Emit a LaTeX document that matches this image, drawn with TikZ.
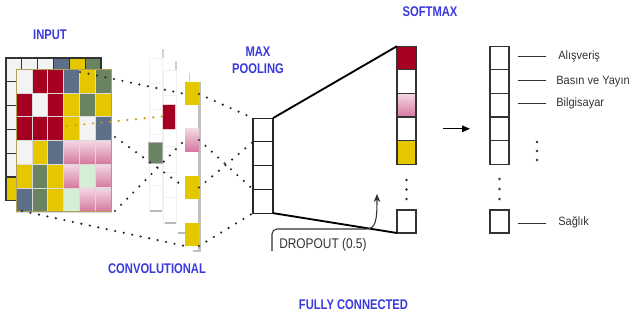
\documentclass[tikz,border=0pt]{standalone}
\usepackage{fontspec}
\setmainfont{Liberation Sans}
\newfontfamily\hdfont[FakeStretch=0.8]{Liberation Sans}
\newfontfamily\lbfont[FakeStretch=0.92]{Liberation Sans}
\newfontfamily\dpfont[FakeStretch=0.85]{Liberation Sans}
\usetikzlibrary{arrows.meta,calc}
\definecolor{cR}{HTML}{A50021}
\definecolor{cY}{HTML}{E5C700}
\definecolor{cS}{HTML}{5E7088}
\definecolor{cG}{HTML}{6A8462}
\definecolor{cW}{HTML}{F3F3F3}
\definecolor{cL}{HTML}{D6EDD6}
\definecolor{cpinkT}{HTML}{F3D8E4}
\definecolor{cpinkB}{HTML}{D5779E}
\definecolor{hblue}{HTML}{3A3ADC}
\definecolor{gold}{HTML}{C9A100}
\definecolor{olivb}{HTML}{B0A058}
\definecolor{txtg}{HTML}{333333}
\begin{document}
\begin{tikzpicture}[x=0.75pt,y=-0.75pt,
  fW/.style={fill=cW}, fR/.style={fill=cR}, fY/.style={fill=cY},
  fS/.style={fill=cS}, fG/.style={fill=cG}, fL/.style={fill=cL},
  fP/.style={top color=cpinkT,bottom color=cpinkB},
  hd/.style={text=hblue,font=\hdfont\bfseries\fontsize{10.5}{12.8}\selectfont,inner sep=0pt,align=center},
  lbl/.style={text=txtg,font=\lbfont\fontsize{9}{11}\selectfont,inner sep=0pt,anchor=west},
  mpcell/.style={draw=black!85,line width=0.9pt,minimum width=15pt,minimum height=17.8pt,inner sep=0pt,outer sep=0pt},
  smcell/.style={draw=black!80,line width=0.9pt,minimum width=14.25pt,minimum height=17.7pt,inner sep=0pt,outer sep=0pt},
  convcell/.style={minimum width=10.5pt,minimum height=17.25pt,inner sep=0pt,outer sep=0pt},
  dotline/.style={black!85,line width=1.8pt,line cap=round,dash pattern=on 0pt off 6.5pt},
  goldline/.style={gold,line width=1.8pt,line cap=round,dash pattern=on 0pt off 6.5pt},
  thickline/.style={black,line width=1.4pt},
  lbline/.style={txtg,line width=0.75pt},
  ghost/.style={black!6,line width=0.6pt}
]
\fill[white] (0,0) rectangle (634,320);
\useasboundingbox (0,0) rectangle (634,320);
\def\cw{15.83}\def\ch{23.8}
% ---- input: back grid
\foreach \rowlist [count=\r from 0] in {{W,W,W,S,Y,G},{W,W,W,W,W,W},{W,W,W,W,W,W},{W,W,W,W,W,W},{W,W,W,W,W,W},{Y,W,W,W,W,W}} {
  \foreach \c [count=\k from 0] in \rowlist {
    \path[f\c,draw=black!80,line width=0.8pt] ({6+\k*\cw},{58+\r*\ch}) rectangle ++(\cw,\ch);
  }
}
% ---- input: front grid
\foreach \rowlist [count=\r from 0] in {{W,R,R,S,Y,G},{R,W,R,Y,G,Y},{R,R,R,Y,W,S},{W,Y,S,P,P,P},{Y,G,Y,P,L,P},{S,G,Y,L,P,P}} {
  \foreach \c [count=\k from 0] in \rowlist {
    \path[f\c,draw=black!15,line width=0.4pt] ({16+\k*\cw},{69+\r*\ch}) rectangle ++(\cw,\ch);
  }
}
\draw[olivb,line width=0.6pt] (16,69) rectangle (111,211.8);
% ---- ghost convolution maps
\foreach \i in {0,...,5} {
  \draw[ghost] (149,{58+\i*25.5}) rectangle ++(13,25.5);
  \draw[ghost] (163,{70+\i*25.5}) rectangle ++(13,25.5);
}
\draw[black!18,line width=1pt] (163,49) -- (163,58);
\draw[black!18,line width=1pt] (176,61) -- (176,70);
\draw[black!18,line width=1pt] (189.5,73) -- (189.5,82);
\draw[black!28,line width=1.5pt] (150,210.5) -- (162,210.5);
\draw[black!28,line width=1.5pt] (165,223) -- (176,223);
\draw[black!28,line width=1.5pt] (178,233) -- (185,233);
\draw[black!25,line width=1.6pt] (199.5,82) -- (199.5,251) -- (193,251);
% ---- conv feature cells
\node[convcell,fill=cR,draw=white!80!cR,line width=0.5pt,minimum width=9.75pt,minimum height=18.75pt] (rd) at (168.5,116.5) {};
\node[convcell,fill=cG,draw=black!30,line width=0.5pt,minimum height=15.75pt] (gn) at (155,152.5) {};
\node[convcell,fill=cY] (y1) at (192,94) {};
\node[convcell,top color=cpinkT,bottom color=cpinkB] (pk) at (192,140) {};
\node[convcell,fill=cY] (y2) at (192,187.5) {};
\node[convcell,fill=cY] (y3) at (192,234.5) {};
\coordinate (i1) at (80,72);
\coordinate (i2) at (67,126);
\coordinate (i3) at (115,137);
\coordinate (i4) at (115,211);
\coordinate (i5) at (22,211);
% ---- max pooling
\node[mpcell] (mp1) at (263,130) {};
\node[mpcell] (mp2) at (263,153.75) {};
\node[mpcell] (mp3) at (263,177.5) {};
\node[mpcell] (mp4) at (263,201.25) {};
% ---- dotted connections
\draw[dotline] (i1) -- (y1.west);
\draw[goldline] (i2) -- (rd.west);
\draw[dotline] (i3) -- (y2.west);
\draw[dotline] (i4) -- (pk.west);
\draw[dotline] (i5) -- (y3.south west);
\draw[dotline] (y1.east) -- (mp1.north west);
\draw[dotline] (pk.east) -- (mp4.north west);
\draw[dotline] (y2.east) -- (mp2.north west);
\draw[dotline] (y3.south east) -- (mp4.south west);
% ---- softmax
\node[smcell,fill=cR] (s1) at (406.5,58) {};
\node[smcell,fill=white] (s2) at (406.5,81.6) {};
\node[smcell,top color=cpinkT,bottom color=cpinkB] (s3) at (406.5,105.2) {};
\node[smcell,fill=white] (s4) at (406.5,128.8) {};
\node[smcell,fill=cY] (s5) at (406.5,152.4) {};
\node[smcell,fill=white,minimum height=17.25pt] (sb) at (406.5,221.5) {};
\foreach \yy in {180,189.5,199} \fill[txtg] (406.5,\yy) circle (1pt);
\draw[thickline] (mp1.north east) -- (s1.north west);
\draw[thickline] (mp4.south east) -- (sb.south west);
% ---- dropout
\coordinate (dpA) at (272,251);
\coordinate (dpT) at (377,194);
\draw[txtg,line width=0.8pt,-{Stealth[length=6pt,width=5pt]}] (dpA) -- (272,234) to[out=90,in=180] (277,229) -- (366,229) .. controls (376,229) and (377,220) .. (dpT);
\node[text=txtg,font=\dpfont\fontsize{10.5}{12}\selectfont,inner sep=0pt,anchor=west] (dp) at (279,245) {DROPOUT (0.5)};
% ---- output column
\node[smcell,fill=white] (o1) at (499.5,58) {};
\node[smcell,fill=white] (o2) at (499.5,81.6) {};
\node[smcell,fill=white] (o3) at (499.5,105.2) {};
\node[smcell,fill=white] (o4) at (499.5,128.8) {};
\node[smcell,fill=white] (o5) at (499.5,152.4) {};
\node[smcell,fill=white,minimum height=17.25pt] (ob) at (499.5,221.5) {};
\foreach \yy in {179,189,199} \fill[txtg] (499.5,\yy) circle (1pt);
\foreach \yy in {142,151,160} \fill[txtg] (537,\yy) circle (1pt);
\draw[black,line width=0.9pt,-{Triangle[length=6pt,width=5pt]}] ($(s4.east)+(27,0)$) -- ($(o4.west)+(-20,0)$);
% ---- labels
\node[lbl] (l1) at (558,56.5) {Alışveriş};
\node[lbl] (l2) at (556,81.5) {Basın ve Yayın};
\node[lbl] (l3) at (556,103.5) {Bilgisayar};
\node[lbl] (l4) at (558,222.5) {Sağlık};
\draw[lbline] ($(o1.east)+(9,-1.5)$) -- ($(o1.east)+(37,-1.5)$);
\draw[lbline] ($(o2.east)+(9,-0.6)$) -- ($(o2.east)+(37,-0.6)$);
\draw[lbline] ($(o3.east)+(9,-1.2)$) -- ($(o3.east)+(37,-1.2)$);
\draw[lbline] ($(ob.east)+(9,1.5)$) -- ($(ob.east)+(37,1.5)$);
% ---- headings
\node[hd] (tin) at (50,35) {INPUT};
\node[hd] (tconv) at (157,269) {CONVOLUTIONAL};
\node[hd] (tmp) at (258,60.5) {MAX\\POOLING};
\node[hd] (tsm) at (430,12) {SOFTMAX};
\node[hd] (tfc) at (353.5,305) {FULLY CONNECTED};
\end{tikzpicture}
\end{document}
